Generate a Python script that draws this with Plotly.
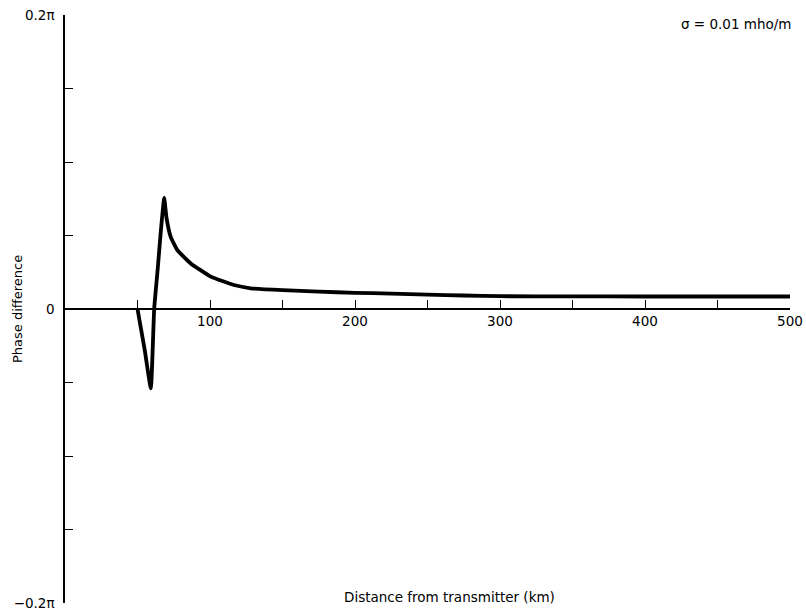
import plotly.graph_objects as go

# Phase difference (in units of pi) versus distance from the transmitter
distance_km = [50, 55, 59.2, 61.5, 64, 66, 68.4, 70, 72.9, 77.5, 86.7, 100.5,
               116.5, 128, 150, 175, 200, 225, 250, 275, 300, 350, 400, 450, 500]
phase_pi = [0.0, -0.028, -0.054, 0.0, 0.028, 0.052, 0.0755, 0.062, 0.049, 0.040,
            0.031, 0.022, 0.0163, 0.0141, 0.0128, 0.0118, 0.011, 0.0105, 0.0098,
            0.0092, 0.0087, 0.0086, 0.0085, 0.0085, 0.0085]

x_ticks = [50, 100, 150, 200, 250, 300, 350, 400, 450, 500]
x_tick_text = ["", "100", "", "200", "", "300", "", "400", "", "500"]
y_ticks = [-0.2, -0.15, -0.1, -0.05, 0, 0.05, 0.1, 0.15, 0.2]
y_tick_text = ["\u22120.2\u03c0", "", "", "", "0", "", "", "", "0.2\u03c0"]

FONT = "DejaVu Sans"

fig = go.Figure()
fig.add_trace(go.Scatter(
    x=distance_km, y=phase_pi, mode="lines",
    line=dict(color="black", width=3.8, shape="spline", smoothing=0.35),
    hoverinfo="skip", showlegend=False,
))

fig.update_layout(
    width=806, height=610,
    margin=dict(l=65, r=16, t=15, b=7, autoexpand=False),
    paper_bgcolor="white", plot_bgcolor="white",
    font=dict(family=FONT, color="black", size=13),
    xaxis=dict(
        range=[0, 500], anchor="free", position=0.5, automargin=False,
        showline=True, linecolor="black", linewidth=1.5,
        showgrid=False, zeroline=False,
        tickmode="array", tickvals=x_ticks, ticktext=x_tick_text,
        ticks="inside", ticklen=8, tickwidth=1.2, tickcolor="black",
        tickfont=dict(size=13.5, family=FONT),
    ),
    yaxis=dict(
        range=[-0.2, 0.2], automargin=False,
        showline=True, linecolor="black", linewidth=1.5,
        showgrid=False, zeroline=False,
        tickmode="array", tickvals=y_ticks, ticktext=y_tick_text,
        ticks="inside", ticklen=8, tickwidth=1.2, tickcolor="black",
        tickfont=dict(size=13.5, family=FONT),
        ticklabelstandoff=6, ticklabeloverflow="allow",
    ),
    annotations=[
        dict(text="Phase difference", xref="paper", yref="paper",
             x=0.0, y=0.5, xshift=-48, textangle=-90,
             xanchor="center", yanchor="middle", showarrow=False,
             font=dict(size=13, family=FONT)),
        dict(text="Distance from transmitter (km)", xref="paper", yref="paper",
             x=0.53, y=0.0, yshift=6, xanchor="center", yanchor="middle",
             showarrow=False, font=dict(size=13.5, family=FONT)),
        dict(text="\u03c3 = 0.01 mho/m", xref="paper", yref="paper",
             x=1.0, y=0.985, xshift=3, xanchor="right", yanchor="middle",
             showarrow=False, font=dict(size=13.5, family=FONT)),
    ],
)

fig.write_html("out.html")
